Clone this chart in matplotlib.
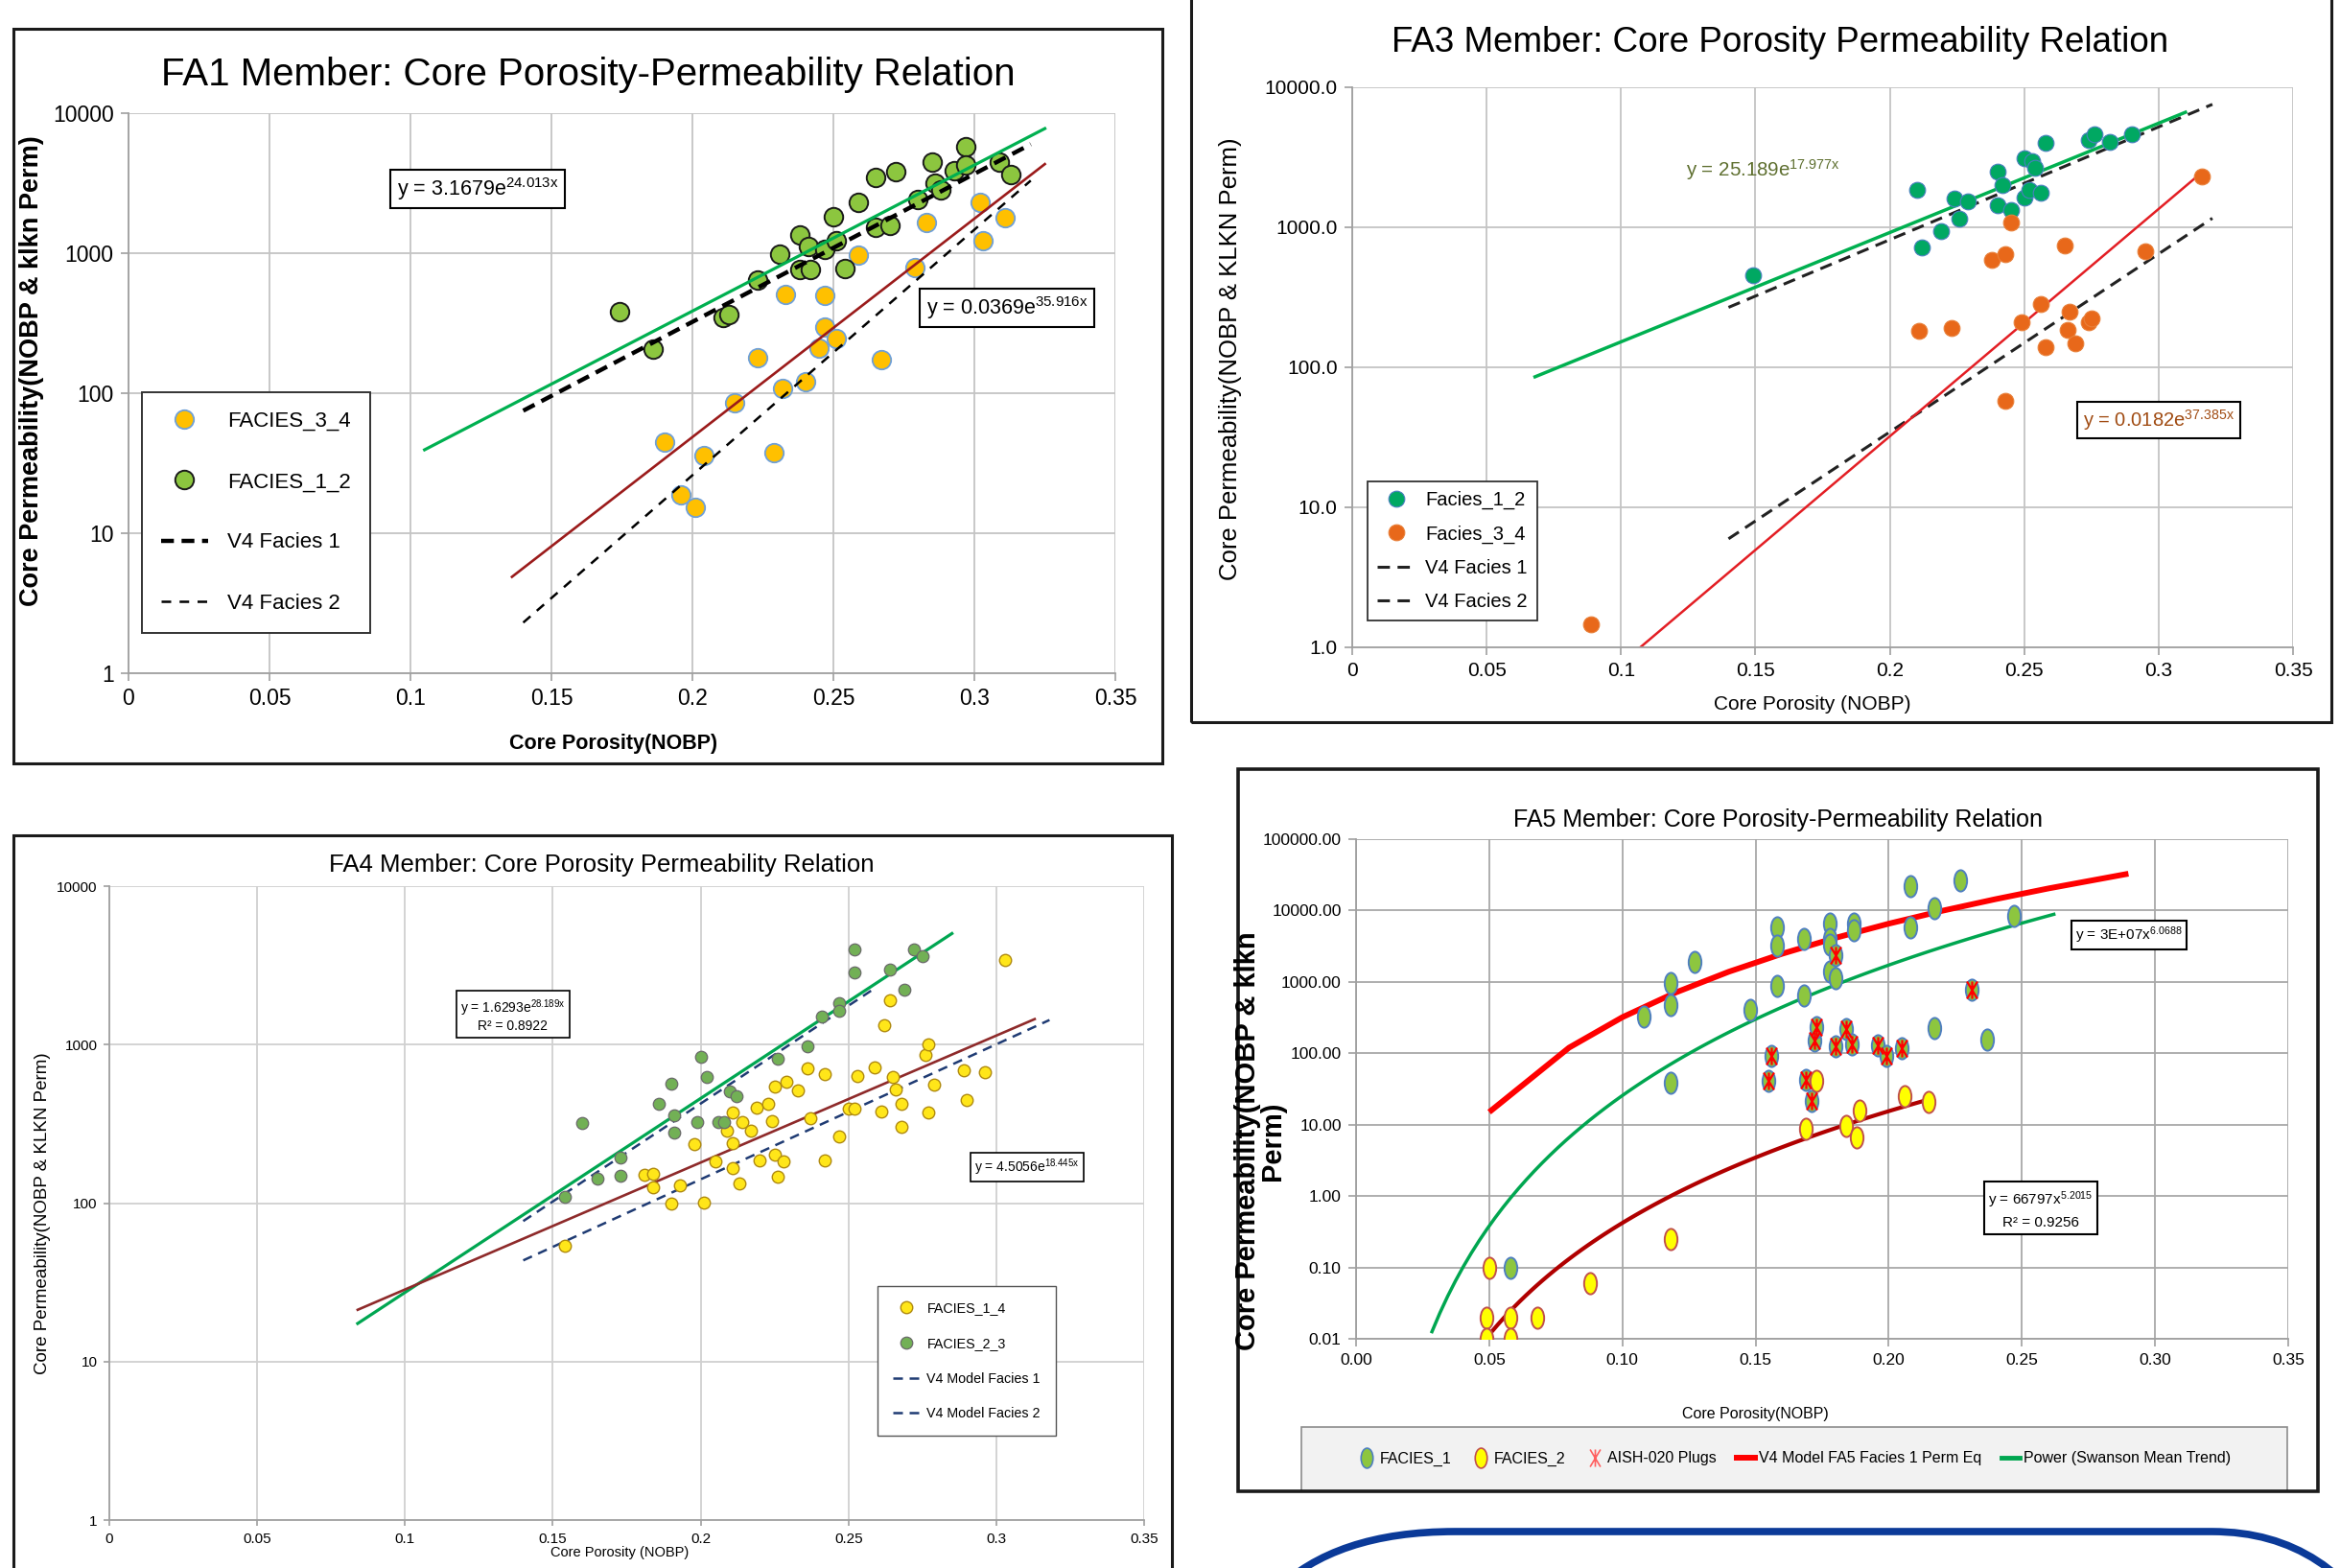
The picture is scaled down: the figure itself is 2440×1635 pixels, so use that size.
import numpy as np
import matplotlib.pyplot as plt
from matplotlib.path import Path
from matplotlib.patches import Rectangle, FancyBboxPatch
from matplotlib.lines import Line2D
from matplotlib.ticker import NullLocator
from matplotlib.transforms import IdentityTransform

# ---------------- data ----------------
x_ticks = [0, 0.05, 0.1, 0.15, 0.2, 0.25, 0.3, 0.35]
x_labels = ['0', '0.05', '0.1', '0.15', '0.2', '0.25', '0.3', '0.35']
x_labels_2dp = ['0.00', '0.05', '0.10', '0.15', '0.20', '0.25', '0.30', '0.35']

# FA1
fa1_yticks = [1, 10, 100, 1000, 10000]
fa1_ylabels = ['1', '10', '100', '1000', '10000']
fa1_f12_phi = [0.174, 0.186, 0.211, 0.213, 0.223, 0.231, 0.238, 0.238, 0.241, 0.242, 0.247, 0.250, 0.251, 0.254,
               0.259, 0.265, 0.265, 0.270, 0.272, 0.280, 0.285, 0.286, 0.288, 0.293, 0.297, 0.297, 0.309, 0.313]
fa1_f12_k = [380, 205, 350, 365, 645, 990, 1340, 765, 1110, 765, 1060, 1830, 1235, 780,
             2320, 3480, 1520, 1570, 3800, 2430, 4450, 3170, 2840, 3870, 5740, 4250, 4470, 3640]
fa1_f34_phi = [0.190, 0.196, 0.201, 0.204, 0.215, 0.223, 0.229, 0.232, 0.233, 0.240, 0.245, 0.247, 0.247, 0.251,
               0.259, 0.267, 0.279, 0.283, 0.302, 0.303, 0.311]
fa1_f34_k = [45, 18.7, 15.2, 36, 86, 179, 37.7, 108, 509, 120, 209, 296, 503, 244,
             964, 174, 789, 1667, 2323, 1236, 1806]
fa1_v4f1_phi, fa1_v4f1_k = [0.14, 0.32], [75, 6000]
fa1_v4f2_phi, fa1_v4f2_k = [0.14, 0.32], [2.3, 3300]
fa1_fit12 = (3.1679, 24.013, 0.105, 0.325)   # a, b, phi from, phi to
fa1_fit34 = (0.0369, 35.916, 0.136, 0.325)

# FA3
fa3_ylabels = ['1.0', '10.0', '100.0', '1000.0', '10000.0']
fa3_f12_phi = [0.149, 0.210, 0.212, 0.219, 0.224, 0.229, 0.226, 0.240, 0.240, 0.242, 0.245, 0.250, 0.250, 0.253,
               0.254, 0.252, 0.256, 0.258, 0.274, 0.276, 0.282, 0.290]
fa3_f12_k = [453, 1846, 714, 940, 1617, 1538, 1148, 2489, 1445, 2013, 1333, 3098, 1626, 2963,
             2648, 1854, 1765, 3996, 4178, 4585, 4047, 4585]
fa3_f34_phi = [0.089, 0.211, 0.223, 0.238, 0.243, 0.245, 0.243, 0.249, 0.256, 0.258, 0.265, 0.266, 0.267, 0.269,
               0.274, 0.275, 0.295, 0.316]
fa3_f34_k = [1.46, 182, 190, 585, 638, 1080, 58, 209, 282, 139, 736, 184, 250, 148,
             209, 225, 671, 2307]
fa3_v4f1_phi, fa3_v4f1_k = [0.14, 0.32], [268, 7550]
fa3_v4f2_phi, fa3_v4f2_k = [0.14, 0.32], [5.96, 1160]
fa3_fit12 = (25.189, 17.977, 0.068, 0.31)
fa3_fit34 = (0.0182, 37.385, 0.107, 0.316)

# FA4
fa4_f23_phi = [0.154, 0.160, 0.165, 0.173, 0.173, 0.186, 0.190, 0.191, 0.191, 0.199, 0.200, 0.202, 0.206, 0.208,
               0.210, 0.212, 0.226, 0.236, 0.241, 0.247, 0.247, 0.252, 0.252, 0.264, 0.269, 0.272, 0.275]
fa4_f23_k = [110, 318, 142, 194, 148, 425, 566, 357, 277, 324, 843, 628, 324, 324,
             504, 472, 815, 976, 1502, 1820, 1632, 2863, 3981, 2966, 2223, 4000, 3630]
fa4_f14_phi = [0.154, 0.181, 0.184, 0.184, 0.193, 0.190, 0.201, 0.198, 0.205, 0.209, 0.211, 0.211, 0.211, 0.213,
               0.214, 0.217, 0.219, 0.220, 0.223, 0.224, 0.225, 0.225, 0.228, 0.226, 0.229, 0.233, 0.236, 0.237,
               0.242, 0.242, 0.247, 0.250, 0.252, 0.253, 0.259, 0.261, 0.262, 0.264, 0.265, 0.266, 0.268, 0.268,
               0.276, 0.277, 0.277, 0.279, 0.289, 0.290, 0.296, 0.303]
fa4_f14_k = [54, 150, 154, 125, 129, 100, 101, 235, 183, 287, 375, 239, 166, 133,
             324, 287, 398, 186, 422, 327, 201, 547, 184, 146, 584, 516, 710, 341,
             187, 650, 264, 394, 394, 637, 716, 379, 1322, 1910, 628, 524, 425, 304,
             863, 1000, 372, 561, 685, 450, 670, 3405]
fa4_v4f1_phi, fa4_v4f1_k = [0.14, 0.258], [77, 2210]
fa4_v4f2_phi, fa4_v4f2_k = [0.14, 0.318], [43.5, 1430]
fa4_fit23 = (1.6293, 28.189, 0.084, 0.285)
fa4_fit14 = (4.5056, 18.445, 0.084, 0.313)

# FA5
fa5_yticks = [0.01, 0.1, 1, 10, 100, 1000, 10000, 100000]
fa5_ylabels = ['0.01', '0.10', '1.00', '10.00', '100.00', '1000.00', '10000.00', '100000.00']
fa5_f1_phi = [0.058, 0.108, 0.118, 0.118, 0.118, 0.127, 0.148, 0.158, 0.158, 0.158, 0.168, 0.168, 0.178,
              0.178, 0.178, 0.178, 0.180, 0.187, 0.187, 0.208, 0.208, 0.217, 0.227, 0.247, 0.217, 0.237]
fa5_f1_k = [0.1, 330, 977, 476, 39, 1900, 404, 5754, 3236, 876, 4036, 650, 6566,
            4036, 3300, 1393, 1117, 6566, 5260, 22170, 5875, 10920, 26190, 8480, 224, 157]
fa5_plug_phi = [0.155, 0.156, 0.169, 0.171, 0.172, 0.173, 0.180, 0.180, 0.184, 0.186, 0.196, 0.199, 0.205, 0.231]
fa5_plug_k = [41.7, 90.6, 42.6, 21.5, 149, 232, 126, 2371, 219, 133, 129, 90.6, 116, 767]
fa5_f2_phi = [0.050, 0.049, 0.049, 0.058, 0.058, 0.068, 0.088, 0.118, 0.169, 0.173, 0.184, 0.188, 0.189,
              0.206, 0.215]
fa5_f2_k = [0.1, 0.02, 0.01, 0.02, 0.01, 0.02, 0.06, 0.25, 8.85, 41.7, 9.57, 6.71, 15.9, 25.3, 20.8]
fa5_v4_phi = [0.05, 0.08, 0.10, 0.12, 0.14, 0.16, 0.18, 0.20, 0.22, 0.24, 0.26, 0.29]
fa5_v4_k = [15, 120, 320, 710, 1390, 2480, 4140, 6540, 9900, 14400, 20400, 32800]
fa5_swanson = (3e7, 6.0688, 0.0285, 0.262)   # power law a*x^b
fa5_fit2 = (66797, 5.2015, 0.049, 0.215)

# ---------------- setup ----------------
W, H = 2440, 1635
SANS = ['Liberation Sans', 'DejaVu Sans']
plt.rcParams['font.family'] = SANS
plt.rcParams['mathtext.default'] = 'regular'

fig = plt.figure(figsize=(W / 100, H / 100), dpi=100)
fig.patch.set_facecolor('white')

ellipse = Path(Path.unit_circle().vertices * [0.6, 1.0], Path.unit_circle().codes)
plug_mark = Path([(-0.6, -1), (0.6, 1), (-0.6, 1), (0.6, -1), (0, -1), (0, 1)],
                 [Path.MOVETO, Path.LINETO, Path.MOVETO, Path.LINETO, Path.MOVETO, Path.LINETO])


def px_axes(l, t, r, b):
    return fig.add_axes([l / W, 1 - b / H, (r - l) / W, (b - t) / H])


def frame(l, t, r, b, lw=2.2, fc='none', ec='#1a1a1a', z=1):
    fig.add_artist(Rectangle((l / W, 1 - b / H), (r - l) / W, (b - t) / H, transform=fig.transFigure,
                             fc=fc, ec=ec, lw=lw, zorder=z))


def ftext(x, y, s, **kw):
    kw.setdefault('ha', 'center')
    kw.setdefault('va', 'center')
    return fig.text(x / W, 1 - y / H, s, **kw)


def eqbox(x, y, s, size, color='black', box=True, lw=1.5, ls=1.1):
    bb = dict(boxstyle='square,pad=0.3', fc='white', ec='black', lw=lw) if box else None
    ftext(x, y, s, fontsize=size, color=color, bbox=bb, linespacing=ls)


def style(ax, yticks, ylabels, xlabels, fs, grid='#c4c4c4', tick_len=6):
    ax.set_yscale('log')
    ax.set_xlim(0, 0.35)
    ax.set_ylim(yticks[0], yticks[-1])
    ax.set_xticks(x_ticks, xlabels)
    ax.set_yticks(yticks, ylabels)
    ax.yaxis.set_minor_locator(NullLocator())
    ax.grid(True, color=grid, lw=1.3)
    ax.set_axisbelow(True)
    for s in ['top', 'right']:
        ax.spines[s].set_visible(False)
    for s in ['left', 'bottom']:
        ax.spines[s].set_color('#a0a0a0')
        ax.spines[s].set_linewidth(1.3)
    ax.tick_params(labelsize=fs, length=tick_len, color='#a0a0a0', width=1.2, pad=5)


def exp_fit(ax, fit, **kw):
    a, b, lo, hi = fit
    p = np.linspace(lo, hi, 50)
    ax.plot(p, a * np.exp(b * p), **kw)


def pow_fit(ax, fit, **kw):
    a, b, lo, hi = fit
    p = np.linspace(lo, hi, 80)
    ax.plot(p, a * p ** b, **kw)


# ---------------- FA1 ----------------
frame(14, 30, 1212, 796)
ax1 = px_axes(134, 118, 1163, 702)
style(ax1, fa1_yticks, fa1_ylabels, x_labels, 16.5)
ax1.plot(fa1_f34_phi, fa1_f34_k, 'o', ms=14, mfc='#FFC000', mec='#6FA0D8', mew=1.3, ls='none', zorder=3,
         label='FACIES_3_4')
ax1.plot(fa1_f12_phi, fa1_f12_k, 'o', ms=14, mfc='#8CC63F', mec='#1a1a1a', mew=1.4, ls='none', zorder=3,
         label='FACIES_1_2')
ax1.plot(fa1_v4f1_phi, fa1_v4f1_k, color='black', lw=3.2, dashes=(3, 1.8), zorder=4, label='V4 Facies 1')
ax1.plot(fa1_v4f2_phi, fa1_v4f2_k, color='black', lw=1.8, dashes=(4, 3.5), zorder=4, label='V4 Facies 2')
exp_fit(ax1, fa1_fit12, color='#00B050', lw=2.3, zorder=4)
exp_fit(ax1, fa1_fit34, color='#9B1B1B', lw=1.9, zorder=4)
h, l = ax1.get_legend_handles_labels()
leg = ax1.legend(h, l, loc='upper left', bbox_to_anchor=(148 / W, 1 - 409 / H), bbox_transform=fig.transFigure,
                 fontsize=16, labelspacing=1.9, handlelength=2.2, handletextpad=0.9, borderpad=0.9,
                 borderaxespad=0, fancybox=False, edgecolor='#333333', framealpha=1)
leg.get_frame().set_linewidth(1.4)
ftext(613, 78, 'FA1 Member: Core Porosity-Permeability Relation', fontsize=29)
ftext(33, 387, 'Core Permeability(NOBP & klkn Perm)', fontsize=19.5, rotation=90, weight='bold')
ftext(640, 775, 'Core Porosity(NOBP)', fontsize=15.5, weight='bold')
eqbox(498, 197, r'y = 3.1679e$^{24.013x}$', 15.5)
eqbox(1050, 321, r'y = 0.0369e$^{35.916x}$', 15.5)

# ---------------- FA3 ----------------
frame(1242, -4, 2431, 753)
ax3 = px_axes(1410, 91, 2391, 675)
style(ax3, fa1_yticks, fa3_ylabels, x_labels, 15)
ax3.plot(fa3_f12_phi, fa3_f12_k, 'o', ms=12, mfc='#00A862', mec='#4A7FC0', mew=0.8, ls='none', zorder=3,
         label='Facies_1_2')
ax3.plot(fa3_f34_phi, fa3_f34_k, 'o', ms=12, mfc='#E8681A', mec='#E8803A', mew=0.8, ls='none', zorder=3,
         label='Facies_3_4')
ax3.plot(fa3_v4f1_phi, fa3_v4f1_k, color='#222222', lw=2.2, dashes=(4.2, 2.6), zorder=2, label='V4 Facies 1')
ax3.plot(fa3_v4f2_phi, fa3_v4f2_k, color='#222222', lw=2.2, dashes=(4.2, 2.6), zorder=2, label='V4 Facies 2')
exp_fit(ax3, fa3_fit12, color='#00B050', lw=2.5, zorder=2)
exp_fit(ax3, fa3_fit34, color='#E31E24', lw=1.8, zorder=2)
h, l = ax3.get_legend_handles_labels()
leg = ax3.legend(h, l, loc='upper left', bbox_to_anchor=(1426 / W, 1 - 502 / H), bbox_transform=fig.transFigure,
                 fontsize=14.5, labelspacing=0.8, handlelength=2.0, handletextpad=0.5, borderpad=0.5,
                 borderaxespad=0, fancybox=False, edgecolor='#333333', framealpha=1)
leg.get_frame().set_linewidth(1.3)
ftext(1856, 44, 'FA3 Member: Core Porosity Permeability Relation', fontsize=26.5)
ftext(1283, 374, 'Core Permeability(NOBP & KLKN Perm)', fontsize=18.5, rotation=90)
ftext(1890, 734, 'Core Porosity (NOBP)', fontsize=15)
eqbox(1838, 177, r'y = 25.189e$^{17.977x}$', 14.8, color='#5E6F2F', box=False)
eqbox(2251, 438, r'y = 0.0182e$^{37.385x}$', 14.5, color='#A04B12')

# ---------------- FA4 ----------------
frame(14, 871, 1222, 1660)
ax4 = px_axes(114, 924, 1193, 1585)
style(ax4, fa1_yticks, fa1_ylabels, x_labels, 11, grid='#d0d0d0', tick_len=4)
ax4.plot(fa4_f14_phi, fa4_f14_k, 'o', ms=9, mfc='#FFE619', mec='#B08A10', mew=1.0, ls='none', zorder=3,
         label='FACIES_1_4')
ax4.plot(fa4_f23_phi, fa4_f23_k, 'o', ms=9, mfc='#72B055', mec='#6a6a6a', mew=0.9, ls='none', zorder=3,
         label='FACIES_2_3')
ax4.plot(fa4_v4f1_phi, fa4_v4f1_k, color='#1F3B73', lw=1.8, dashes=(4, 2.8), zorder=2, label='V4 Model Facies 1')
ax4.plot(fa4_v4f2_phi, fa4_v4f2_k, color='#1F3B73', lw=1.8, dashes=(4, 2.8), zorder=2, label='V4 Model Facies 2')
exp_fit(ax4, fa4_fit23, color='#00A651', lw=2.3, zorder=2)
exp_fit(ax4, fa4_fit14, color='#8E2A2A', lw=1.9, zorder=2)
h, l = ax4.get_legend_handles_labels()
leg = ax4.legend(h, l, loc='upper left', bbox_to_anchor=(915 / W, 1 - 1341 / H), bbox_transform=fig.transFigure,
                 fontsize=10.3, labelspacing=1.6, handlelength=2.0, handletextpad=0.5, borderpad=1.1,
                 borderaxespad=0, fancybox=False, edgecolor='#555555', framealpha=1)
leg.get_frame().set_linewidth(1.0)
ftext(627, 902, 'FA4 Member: Core Porosity Permeability Relation', fontsize=18.5)
ftext(45, 1265, 'Core Permeability(NOBP & KLKN Perm)', fontsize=13.5, rotation=90)
ftext(646, 1619, 'Core Porosity (NOBP)', fontsize=10.5)
eqbox(535, 1059, 'y = 1.6293e$^{28.189x}$\nR² = 0.8922', 10, lw=1.2)
eqbox(1071, 1217, r'y = 4.5056e$^{18.445x}$', 10, lw=1.2)

# ---------------- FA5 ----------------
frame(1291, 802, 2417, 1555, lw=2.6)
ax5 = px_axes(1414, 875, 2386, 1396)
style(ax5, fa5_yticks, fa5_ylabels, x_labels_2dp, 12.5, grid='#a8a8a8')
ax5.plot(fa5_f1_phi + fa5_plug_phi, fa5_f1_k + fa5_plug_k, marker=ellipse, ms=16, mfc='#8DC63F', mec='#4F7FC0',
         mew=1.4, ls='none', zorder=3)
ax5.plot(fa5_f2_phi, fa5_f2_k, marker=ellipse, ms=16, mfc='#FFFF00', mec='#C0504D', mew=1.4, ls='none', zorder=3)
ax5.plot(fa5_plug_phi, fa5_plug_k, marker=plug_mark, ms=13, mfc='none', mec='#FF0000', mew=1.6, ls='none',
         zorder=4)
ax5.plot(fa5_v4_phi, fa5_v4_k, color='#FF0000', lw=4.3, zorder=2, solid_capstyle='butt')
pow_fit(ax5, fa5_swanson, color='#00A650', lw=2.5, zorder=2)
pow_fit(ax5, fa5_fit2, color='#B00000', lw=3.0, zorder=2)

# legend strip under the plot (grey band sits behind the axes so the legend stays on top)
frame(1357, 1488, 2385, 1555, lw=1.2, fc='#F2F2F2', ec='#8c8c8c', z=-1)
handles = [Line2D([], [], marker=ellipse, ms=15, mfc='#8DC63F', mec='#4F7FC0', mew=1.2, ls='none'),
           Line2D([], [], marker=ellipse, ms=15, mfc='#FFFF00', mec='#C0504D', mew=1.2, ls='none'),
           Line2D([], [], marker=plug_mark, ms=13, mec='#FF6060', mew=1.2, ls='none'),
           Line2D([], [], color='#FF0000', lw=4.3),
           Line2D([], [], color='#00A650', lw=3.5)]
labels = ['FACIES_1', 'FACIES_2', 'AISH-020 Plugs', 'V4 Model FA5 Facies 1 Perm Eq', 'Power (Swanson Mean Trend)']
ax5.legend(handles, labels, loc='center', ncol=5, bbox_to_anchor=((1357 + 2385) / 2 / W, 1 - 1521 / H),
           bbox_transform=fig.transFigure, fontsize=11.5, handlelength=1.2, handletextpad=0.25,
           columnspacing=1.3, borderaxespad=0, frameon=False)
ftext(1854, 855, 'FA5 Member: Core Porosity-Permeability Relation', fontsize=18)
ftext(1314, 1190, 'Core Permeability(NOBP & klkn\nPerm)', fontsize=21, rotation=90, weight='bold',
      linespacing=0.95)
ftext(1830, 1474, 'Core Porosity(NOBP)', fontsize=11.5)
eqbox(2220, 975, r'y = 3E+07x$^{6.0688}$', 11)
eqbox(2128, 1261, 'y = 66797x$^{5.2015}$\nR² = 0.9256', 11, ls=1.6)

# rounded blue outline in the lower right corner
fig.add_artist(FancyBboxPatch((1267, -700), 1290, 738, boxstyle='round,pad=0,rounding_size=250',
                              transform=IdentityTransform(), fill=False, ec='#0B3A98', lw=5.5))

fig.savefig('out.png', dpi=100, facecolor='white')
